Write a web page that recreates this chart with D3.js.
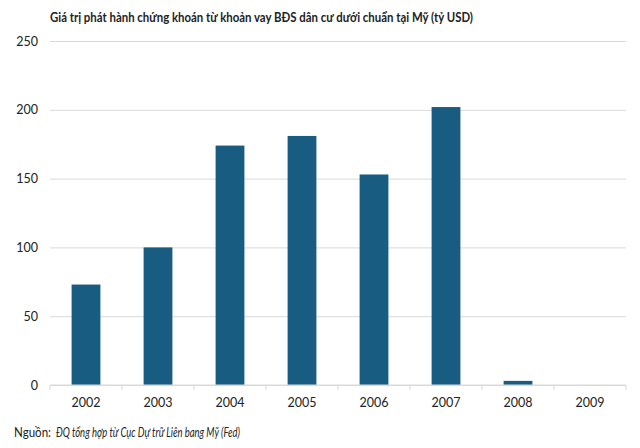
<!DOCTYPE html>
<html>
<head>
<meta charset="utf-8">
<script src="https://cdn.jsdelivr.net/npm/d3@7"></script>
<style>
  body { margin: 0; background: #fff; }
  text { font-family: Lato, "Open Sans", sans-serif; fill: #222; }
</style>
</head>
<body>
<div id="chart"></div>
<script>
const years = ["2002", "2003", "2004", "2005", "2006", "2007", "2008", "2009"]
const values = [73, 100, 174, 181, 153, 202, 3, 0]
const yTicks = [0, 50, 100, 150, 200, 250]

const titleText = "Giá trị phát hành chứng khoán từ khoản vay BĐS dân cư dưới chuẩn tại Mỹ (tỷ USD)"
const sourceLabel = "Nguồn:"
const sourceText = "ĐQ tổng hợp từ Cục Dự trữ Liên bang Mỹ (Fed)"

const W = 640, H = 448
const MARGIN = { TOP: 41, BOTTOM: 63, LEFT: 50, RIGHT: 14 }
const width = W - MARGIN.LEFT - MARGIN.RIGHT
const height = H - MARGIN.TOP - MARGIN.BOTTOM

const svg = d3.select("#chart").append("svg")
    .attr("width", W)
    .attr("height", H)

const g = svg.append("g")
    .attr("transform", `translate(${MARGIN.LEFT}, ${MARGIN.TOP})`)

//scales
const x = d3.scaleBand()
    .domain(years)
    .range([0, width])
    .paddingInner(0.6)
    .paddingOuter(0.3)

const y = d3.scaleLinear()
    .domain([0, 250])
    .range([height, 0])

// gridlines + y labels
const yAxis = d3.axisLeft(y)
    .tickValues(yTicks)
    .tickSize(-width)
    .tickPadding(12)

g.append("g")
    .attr("class", "yAxis")
    .call(yAxis)
    .call(a => a.select(".domain").remove())
    .call(a => a.selectAll(".tick line").attr("stroke", "#d9d9d9"))
    .call(a => a.selectAll(".tick text").attr("font-size", 12.5).attr("fill", "#222"))

// bars
g.selectAll("rect.bar")
    .data(years.map((d, i) => ({ year: d, value: values[i] })))
    .enter()
    .append("rect")
    .attr("class", "bar")
    .attr("x", d => x(d.year))
    .attr("width", x.bandwidth())
    .attr("y", d => y(d.value))
    .attr("height", d => y(0) - y(d.value))
    .attr("fill", "#185d81")

// x axis, ticks between categories
const bounds = d3.range(years.length + 1).map(i => i * width / years.length)
const xg = g.append("g").attr("transform", `translate(0, ${height})`)
xg.append("line")
    .attr("x1", 0).attr("x2", width)
    .attr("stroke", "#d9d9d9")
xg.selectAll("line.tk")
    .data(bounds)
    .enter().append("line")
    .attr("class", "tk")
    .attr("x1", d => d).attr("x2", d => d)
    .attr("y1", 0).attr("y2", 5)
    .attr("stroke", "#d9d9d9")
xg.selectAll("text")
    .data(years)
    .enter().append("text")
    .attr("x", d => x(d) + x.bandwidth() / 2)
    .attr("y", 22)
    .attr("text-anchor", "middle")
    .attr("font-size", 12.5)
    .text(d => d)

// title
svg.append("text")
    .attr("x", 50)
    .attr("y", 22)
    .attr("font-size", 14)
    .attr("font-weight", "bold")
    .attr("textLength", 423)
    .attr("lengthAdjust", "spacingAndGlyphs")
    .text(titleText)

// source
svg.append("text")
    .attr("x", 14)
    .attr("y", 437)
    .attr("font-size", 12.5)
    .attr("textLength", 37)
    .attr("lengthAdjust", "spacingAndGlyphs")
    .text(sourceLabel)
svg.append("text")
    .attr("x", 56)
    .attr("y", 437)
    .attr("font-size", 12.5)
    .attr("font-style", "italic")
    .attr("textLength", 184)
    .attr("lengthAdjust", "spacingAndGlyphs")
    .text(sourceText)
</script>
</body>
</html>
